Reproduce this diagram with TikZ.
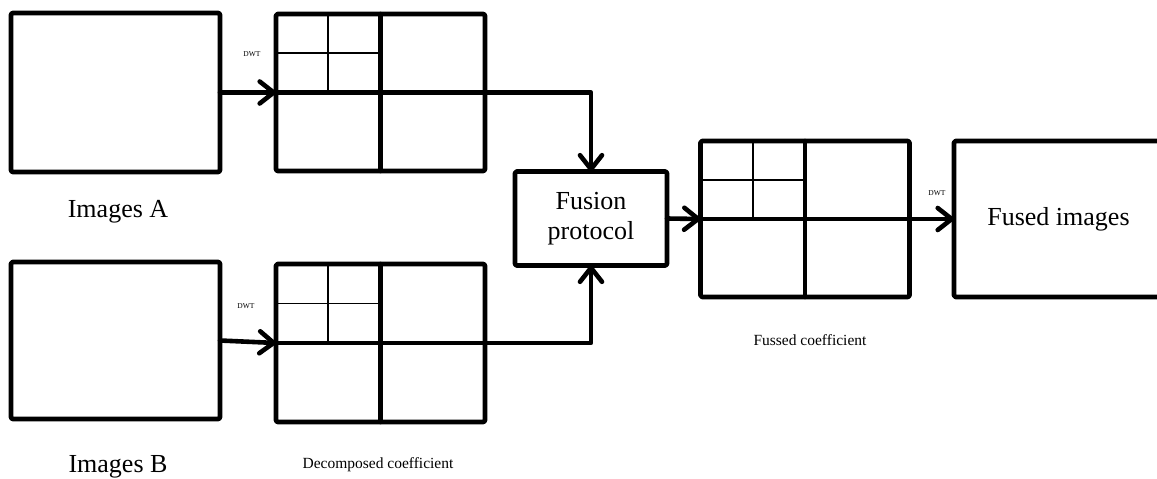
\documentclass[tikz,border=0pt]{standalone}
\usepackage{fontspec}
\setmainfont{Liberation Serif}
\usetikzlibrary{arrows.meta,calc}
\begin{document}
\begin{tikzpicture}[x=1pt,y=-1pt,
  heavy/.style={line width=4.6pt, line join=round, line cap=round},
  frame/.style={draw, heavy, rectangle, rounded corners=1.5pt, outer sep=0pt, inner sep=0pt,
                minimum width=209pt},
  thin/.style={line width=1.8pt},
  conn/.style={heavy, -{Straight Barb[length=14pt,width=22pt,line cap=round,line join=round]}},
  big/.style={font=\fontsize{26}{30}\selectfont, align=center},
  small/.style={font=\fontsize{15.5}{18}\selectfont},
  tiny/.style={font=\fontsize{7.5}{9}\selectfont}
]
\clip (0,0) rectangle (1157,479);
\useasboundingbox (0,0) rectangle (1157,479);

% source images
\node[frame, minimum height=159pt] (imgA) at (115.5,92.5) {};
\node[frame, minimum height=157pt] (imgB) at (115.5,340.5) {};

% decomposed coefficient grids
\node[frame, minimum height=157pt] (coefA) at (380.5,92.5) {};
\node[frame, minimum height=158pt] (coefB) at (380.5,343) {};

% fusion step
\node[frame, minimum width=152pt, minimum height=94pt, big] (fusion) at (591,218.5) {Fusion\\protocol};

% fused coefficient grid
\node[frame, minimum height=156pt] (fcoef) at (805,219) {};

% reconstructed image
\node[frame, minimum height=156pt, big] (fused) at (1058.5,219) {Fused images};

% sub-band divisions
\foreach \g in {coefA,coefB,fcoef}{
  \draw[heavy] (\g.north) -- (\g.south);
  \draw[thin] ($(\g.north west)!0.5!(\g.north)$) coordinate (\g-t)
     -- (\g-t |- \g.west);
  \draw[thin] ($(\g.north west)!0.5!(\g.west)$) coordinate (\g-l)
     -- (\g-l -| \g.north);
}

% connectors
\draw[conn] (imgA.east) -- (coefA.west);
\draw[conn] (imgB.east) -- (coefB.west);
\draw[conn] (coefA.west) -- (coefA.east) -| (fusion.north);
\draw[conn] (coefB.west) -- (coefB.east) -| (fusion.south);
\draw[conn] (fusion.east) -- (fcoef.west);
\draw[conn] (fcoef.west) -- (fcoef.east) -- (fused.west);

% labels
\node[tiny] (dwtA) at (252,54) {DWT};
\node[tiny] (dwtB) at (246,306) {DWT};
\node[tiny] (dwtF) at (937,193) {DWT};
\node[big] (labA) at (118,212) {Images A};
\node[big] (labB) at (118,467) {Images B};
\node[small] (labD) at (378,465) {Decomposed coefficient};
\node[small] (labF) at (810,340) {Fussed coefficient};
\end{tikzpicture}
\end{document}
